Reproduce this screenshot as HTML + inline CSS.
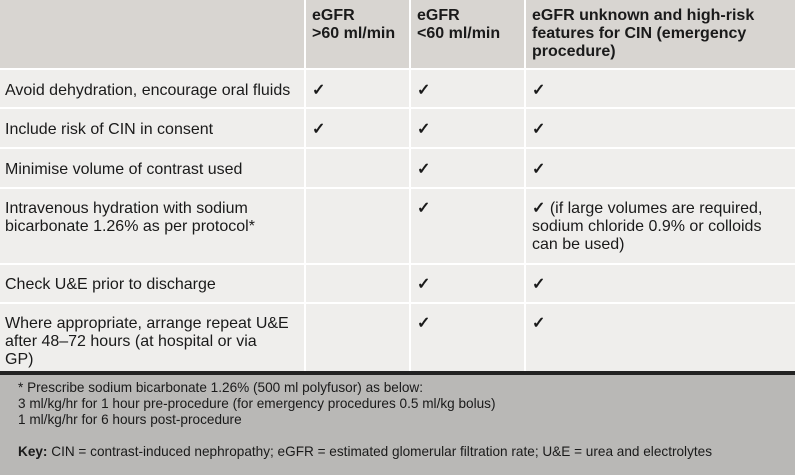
<!DOCTYPE html>
<html><head><style>
body{margin:0;width:795px;height:475px;overflow:hidden;background:#efeeec;font-family:"Liberation Sans",sans-serif;color:#1a1a1a;position:relative}
.bg{position:absolute;left:0;width:795px}
.vl{position:absolute;width:2px;background:#fff;top:0;height:371px}
.hl{position:absolute;left:0;width:795px;height:2px;background:#fff}
.t{position:absolute;font-size:16px;line-height:18px}
.h{font-weight:bold}
.c{font-weight:bold}
.f{position:absolute;left:18px;font-size:13.6px;line-height:16px}
</style></head><body>
<div class="bg" style="top:0;height:68px;background:#d8d5d1"></div>
<div class="bg" style="top:371px;height:4px;background:#222"></div>
<div class="bg" style="top:375px;height:100px;background:#b9b8b6"></div>
<div class="hl" style="top:68px"></div>
<div class="hl" style="top:107px"></div>
<div class="hl" style="top:147px"></div>
<div class="hl" style="top:187px"></div>
<div class="hl" style="top:263px"></div>
<div class="hl" style="top:302px"></div>
<div class="vl" style="left:304px"></div>
<div class="vl" style="left:409px"></div>
<div class="vl" style="left:524px"></div>

<div class="t h" style="left:312px;top:7px">eGFR<br>&gt;60 ml/min</div>
<div class="t h" style="left:417px;top:7px">eGFR<br>&lt;60 ml/min</div>
<div class="t h" style="left:532px;top:7px">eGFR unknown and high-risk<br>features for CIN (emergency<br>procedure)</div>

<div class="t" style="left:5px;top:82px">Avoid dehydration, encourage oral fluids</div>
<div class="t c" style="left:312px;top:82px">✓</div><div class="t c" style="left:417px;top:82px">✓</div><div class="t c" style="left:532px;top:82px">✓</div>
<div class="t" style="left:5px;top:121px">Include risk of CIN in consent</div>
<div class="t c" style="left:312px;top:121px">✓</div><div class="t c" style="left:417px;top:121px">✓</div><div class="t c" style="left:532px;top:121px">✓</div>
<div class="t" style="left:5px;top:161px">Minimise volume of contrast used</div>
<div class="t c" style="left:417px;top:161px">✓</div><div class="t c" style="left:532px;top:161px">✓</div>
<div class="t" style="left:5px;top:200px">Intravenous hydration with sodium<br>bicarbonate 1.26% as per protocol*</div>
<div class="t c" style="left:417px;top:200px">✓</div><div class="t" style="left:532px;top:200px"><b>✓</b> (if large volumes are required,<br>sodium chloride 0.9% or colloids<br>can be used)</div>
<div class="t" style="left:5px;top:276px">Check U&amp;E prior to discharge</div>
<div class="t c" style="left:417px;top:276px">✓</div><div class="t c" style="left:532px;top:276px">✓</div>
<div class="t" style="left:5px;top:315px">Where appropriate, arrange repeat U&amp;E<br>after 48–72 hours (at hospital or via<br>GP)</div>
<div class="t c" style="left:417px;top:315px">✓</div><div class="t c" style="left:532px;top:315px">✓</div>

<div class="f" style="top:380px">* Prescribe sodium bicarbonate 1.26% (500 ml polyfusor) as below:<br>3 ml/kg/hr for 1 hour pre-procedure (for emergency procedures 0.5 ml/kg bolus)<br>1 ml/kg/hr for 6 hours post-procedure</div>
<div class="f" style="top:444px"><b>Key:</b> CIN = contrast-induced nephropathy; eGFR = estimated glomerular filtration rate; U&amp;E = urea and electrolytes</div>
</body></html>
